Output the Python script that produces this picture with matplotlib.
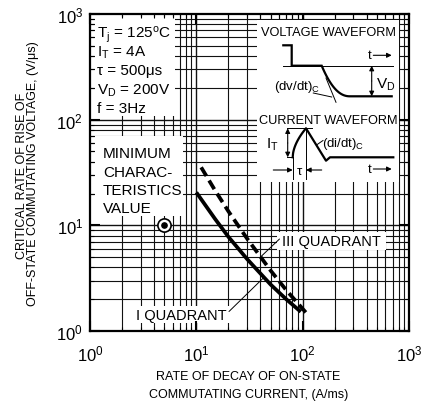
import numpy as np
import matplotlib
matplotlib.use("Agg")
import matplotlib.pyplot as plt
from matplotlib.patches import Rectangle
from matplotlib.ticker import LogLocator, LogFormatterMathtext, NullFormatter

plt.rcParams['font.family'] = ['Liberation Sans', 'DejaVu Sans']
plt.rcParams['mathtext.fontset'] = 'custom'
plt.rcParams['mathtext.rm'] = 'Liberation Sans'
plt.rcParams['mathtext.it'] = 'Liberation Sans:italic'
plt.rcParams['mathtext.bf'] = 'Liberation Sans:bold'

# ---- data ----
q1_x = [10, 15, 20, 30, 50, 70, 96]          # I QUADRANT (solid)
q1_y = [20.5, 11.5, 7.8, 4.8, 2.75, 2.0, 1.52]
q3_x = [11.1, 15, 20, 30, 50, 70, 107]       # III QUADRANT (dashed)
q3_y = [35.4, 21.4, 13.6, 7.5, 3.73, 2.44, 1.5]
min_x = [5]                                  # minimum characteristics value marker
min_y = [10]
q1_label_pt = (43, 3.2)
q3_label_pt = (40, 5.0)

params = ["T$_{\\mathrm{j}}$ = 125$^{\\mathrm{o}}$C", "I$_{\\mathrm{T}}$ = 4A",
          "\u03c4 = 500\u03bcs", "V$_{\\mathrm{D}}$ = 200V", "f = 3Hz"]
min_text = ["MINIMUM", "CHARAC-", "TERISTICS", "VALUE"]

W, H = 429, 406
fig = plt.figure(figsize=(W / 100, H / 100), dpi=100)
L, R, T, B = 90, 409, 15, 332
ax = fig.add_axes([L / W, 1 - B / H, (R - L) / W, (B - T) / H])
ax.set_xscale('log')
ax.set_yscale('log')
ax.set_xlim(1, 1000)
ax.set_ylim(1, 1000)


def axc(px, py):
    return ((px - L) / (R - L), (B - py) / (B - T))


# grid (manual so boxes can hide it)
for d in range(3):
    for m in range(1, 10):
        v = m * 10 ** d
        lw = 1.0 if m == 1 else 0.8
        if v > 1:
            ax.axvline(v, color='#111111', lw=lw, zorder=0.6)
            ax.axhline(v, color='#111111', lw=lw, zorder=0.6)

ax.xaxis.set_major_locator(LogLocator(base=10, numticks=10))
ax.yaxis.set_major_locator(LogLocator(base=10, numticks=10))
ax.xaxis.set_minor_locator(LogLocator(base=10, subs=np.arange(2, 10), numticks=20))
ax.yaxis.set_minor_locator(LogLocator(base=10, subs=np.arange(2, 10), numticks=20))
ax.xaxis.set_major_formatter(LogFormatterMathtext())
ax.yaxis.set_major_formatter(LogFormatterMathtext())
ax.xaxis.set_minor_formatter(NullFormatter())
ax.yaxis.set_minor_formatter(NullFormatter())
ax.tick_params(which='both', direction='in', top=True, right=True, colors='k')
ax.tick_params(which='major', length=7, width=1.5, labelsize=12)
ax.tick_params(which='minor', length=3, width=0.8)
ax.tick_params(axis='x', which='major', pad=9)
ax.tick_params(axis='y', which='major', pad=5)
for s in ax.spines.values():
    s.set_linewidth(1.6)
    s.set_zorder(5)

# white boxes hiding grid
def wbox(x0, y0, x1, y1):
    a = axc(x0, y1)
    b = axc(x1, y0)
    ax.add_patch(Rectangle(a, b[0] - a[0], b[1] - a[1], transform=ax.transAxes,
                           facecolor='white', edgecolor='none', zorder=1))

wbox(95, 18, 175, 117)
wbox(95, 137, 183, 217)
wbox(277, 233, 386, 251)
wbox(133, 307, 230, 324)

for i, s in enumerate(params):
    ax.text(*axc(97, 38 + i * 18.7), s, transform=ax.transAxes, fontsize=11,
            ha='left', va='baseline', zorder=3)
for i, s in enumerate(min_text):
    ax.text(*axc(103, 158.5 + i * 18.3), s, transform=ax.transAxes, fontsize=11,
            ha='left', va='baseline', zorder=3)

# curves
ax.plot(q1_x, q1_y, color='k', lw=2.7, solid_capstyle='butt', zorder=4)
ax.plot(q3_x, q3_y, color='k', lw=2.7, linestyle=(0, (2.7, 1.4)),
        dash_capstyle='butt', zorder=4)
ax.plot(min_x, min_y, 'o', mfc='white', mec='k', ms=9.5, mew=1.2, zorder=4)
ax.plot(min_x, min_y, 'o', color='k', ms=3.8, zorder=4)

# quadrant labels with leaders
ax.text(*axc(282, 242), "III QUADRANT", transform=ax.transAxes, fontsize=10.5,
        ha='left', va='center', zorder=3)
ax.annotate('', xy=q3_label_pt, xycoords='data', xytext=axc(279.5, 240),
            textcoords='axes fraction',
            arrowprops=dict(arrowstyle='-', lw=0.7, color='k', shrinkA=0, shrinkB=0),
            zorder=3)
ax.text(*axc(136, 316), "I QUADRANT", transform=ax.transAxes, fontsize=10.5,
        ha='left', va='center', zorder=3)
ax.annotate('', xy=q1_label_pt, xycoords='data', xytext=axc(229, 312.5),
            textcoords='axes fraction',
            arrowprops=dict(arrowstyle='-', lw=0.7, color='k', shrinkA=0, shrinkB=0),
            zorder=3)

# axis labels
fig.text(22 / W, 1 - 176 / H, "CRITICAL RATE OF RISE OF", rotation=90,
         ha='center', va='center', fontsize=9)
fig.text(33.3 / W, 1 - 173.5 / H, "OFF-STATE COMMUTATING VOLTAGE, (V/\u03bcs)",
         rotation=90, ha='center', va='center', fontsize=9)
fig.text(248 / W, 1 - 377 / H, "RATE OF DECAY OF ON-STATE",
         ha='center', va='center', fontsize=9)
fig.text(248.5 / W, 1 - 395 / H, "COMMUTATING CURRENT, (A/ms)",
         ha='center', va='center', fontsize=9)

# ---- waveform inset (drawn in reference pixel coordinates) ----
X0, X1, Y0, Y1 = 257, 399, 21, 183
ins = fig.add_axes([X0 / W, 1 - Y1 / H, (X1 - X0) / W, (Y1 - Y0) / H])
ins.set_xlim(X0, X1)
ins.set_ylim(Y1, Y0)
ins.set_xticks([])
ins.set_yticks([])
for s in ins.spines.values():
    s.set_visible(False)
ins.set_facecolor('white')


def arrow(x0, y0, x1, y1, style='-|>'):
    ins.annotate('', xy=(x1, y1), xytext=(x0, y0),
                 arrowprops=dict(arrowstyle=style, lw=0.8, color='k',
                                 mutation_scale=7, shrinkA=0, shrinkB=0))

ins.text(328.5, 33, "VOLTAGE WAVEFORM", ha='center', va='center', fontsize=9.2)
# thin reference line
ins.plot([283.3, 393.3], [66.7, 66.7], color='k', lw=0.7)
# voltage waveform
t = np.linspace(0, 1, 60)
cx = 321.7 + 28.3 * t
cy = 66.7 + 30.6 * (1 - (1 - t) ** 2.2)
vx = np.concatenate([[283.3, 291.7, 291.7], cx, [391.7]])
vy = np.concatenate([[46.3, 46.3, 66.7], cy, [97.3]])
ins.plot(vx, vy, color='k', lw=1.6, solid_joinstyle='miter')
ins.plot([326, 336], [79, 103.3], color='k', lw=0.7)
ins.plot([313.3, 331.7], [94, 98], color='k', lw=0.7)
ins.text(274, 87, "(dv/dt)$_{\\mathrm{C}}$", ha='left', va='center', fontsize=9.5)
arrow(371.7, 82, 371.7, 66.7)
arrow(371.7, 82, 371.7, 97.3)
ins.text(376.5, 85, "V$_{\\mathrm{D}}$", ha='left', va='center', fontsize=11)
ins.text(369.3, 56.3, "t", ha='center', va='center', fontsize=9.5)
arrow(373.3, 56.3, 391.7, 56.3)

ins.text(328, 120.7, "CURRENT WAVEFORM", ha='center', va='center', fontsize=9.2)
ins.plot([286.7, 311.7], [129.3, 129.3], color='k', lw=0.7)
ins.plot([286.7, 292.7], [158.3, 158.3], color='k', lw=0.7)
ins.plot([292.7, 292.7], [158.3, 180], color='k', lw=0.7)
ins.plot([306, 306], [129.3, 180], color='k', lw=0.7)
u = np.linspace(0, 1, 40)
rx = 292.7 + 13.3 * u
ry = 158.3 - 29 * u ** 0.55
ix = np.concatenate([rx, [326, 330, 393.3]])
iy = np.concatenate([ry, [161.7, 158.3, 158.3]])
ins.plot(ix, iy, color='k', lw=1.6)
arrow(287.7, 144, 287.7, 129.3)
arrow(287.7, 144, 287.7, 158.3)
ins.text(272, 145, "I$_{\\mathrm{T}}$", ha='center', va='center', fontsize=11)
ins.text(322, 143.5, "(di/dt)$_{\\mathrm{C}}$", ha='left', va='center', fontsize=9.5)
ins.plot([323, 316.5], [141.5, 146], color='k', lw=0.7)
arrow(273.3, 171, 292.7, 171)
arrow(321.7, 171, 306, 171)
ins.text(299.3, 172, "\u03c4", ha='center', va='center', fontsize=9.5)
ins.text(369.3, 170, "t", ha='center', va='center', fontsize=9.5)
arrow(373.3, 170, 391.7, 170)

fig.savefig("out.png", dpi=100)
